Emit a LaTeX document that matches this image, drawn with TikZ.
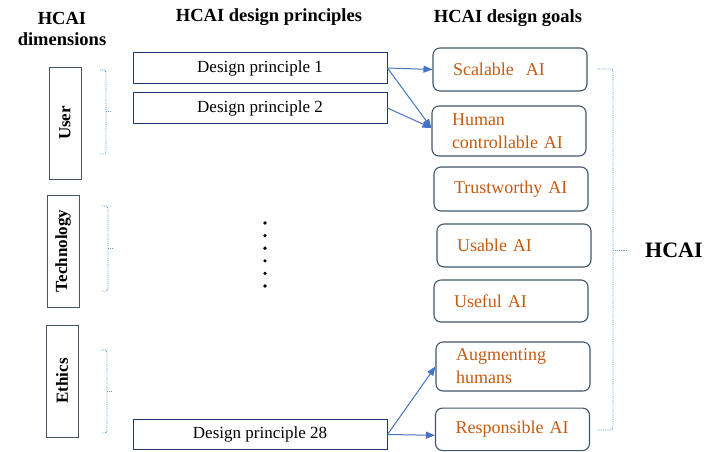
\documentclass[tikz,border=0pt]{standalone}
\usepackage{fontspec}
\setmainfont{Liberation Serif}
\usetikzlibrary{arrows.meta}
\definecolor{navy}{HTML}{203864}
\definecolor{slate}{HTML}{44546A}
\definecolor{orng}{HTML}{C55A11}
\definecolor{lblue}{HTML}{5B9BD5}
\definecolor{ablue}{HTML}{4472C4}
\begin{document}
\begin{tikzpicture}[x=1pt,y=-1pt,
 header/.style={font=\bfseries\fontsize{18.5}{21}\selectfont, inner sep=0pt, align=center},
 dimbox/.style={draw=slate, line width=1pt, rotate=90, minimum width=112pt, minimum height=32pt, font=\bfseries\fontsize{17}{20}\selectfont, inner sep=0pt},
 princ/.style={draw=navy, line width=1pt, minimum width=254pt, minimum height=30.5pt, inner sep=0pt, font=\fontsize{17}{20}\selectfont},
 goal/.style={draw=slate, line width=1.1pt, rounded corners=7pt, text width=114pt, inner xsep=20pt, inner ysep=0pt, align=left, text=orng, font=\fontsize{18}{23}\selectfont},
 brace/.style={lblue, densely dotted, line width=0.9pt, rounded corners=2.5pt},
 arr/.style={ablue, line width=1pt, -{Triangle[length=9pt,width=7pt]}},
 dotmark/.style={circle, fill=black, inner sep=0pt, minimum size=3.6pt}
]
\useasboundingbox (0,0) rectangle (722,451);

% headers
\node[header] (h1) at (62,29) {HCAI\\dimensions};
\node[header] (h2) at (269,17) {HCAI design principles};
\node[header] (h3) at (508,18) {HCAI design goals};

% dimensions
\node[dimbox] (user) at (65,123) {User};
\node[dimbox] (tech) at (63,251) {Technology};
\node[dimbox] (eth) at (62,381) {Ethics};

% braces next to dimensions
\draw[brace] (100,70) -- (106,70) -- (106,154) -- (100,154);
\draw[brace] (106,111) -- (110,111);
\draw[brace] (102,206) -- (108,206) -- (108,291) -- (102,291);
\draw[brace] (108,248) -- (113,248);
\draw[brace] (101,350) -- (107,350) -- (107,433) -- (101,433);
\draw[brace] (107,391) -- (112,391);

% principles
\node[princ] (dp1) at (260,68) {Design principle 1};
\node[princ] (dp2) at (260,108) {Design principle 2};
\node[princ] (dp28) at (260,434.5) {Design principle 28};

% dots
\foreach \k in {0,...,5} {
  \node[dotmark] (d\k) at (265,{223+12.6*\k}) {};
}

% goals
\node[goal, minimum height=43pt] (g1) at (510,69.5) {Scalable\ \ AI};
\node[goal, minimum height=50pt] (g2) at (509,131) {Human\\controllable AI};
\node[goal, minimum height=44pt] (g3) at (511,189) {Trustworthy AI};
\node[goal, minimum height=43pt] (g4) at (514,245.5) {Usable AI};
\node[goal, minimum height=42pt] (g5) at (511,301) {Useful AI};
\node[goal, minimum height=49pt] (g6) at (513,366.5) {Augmenting\\humans};
\node[goal, minimum height=42.5pt] (g7) at (512.5,429.3) {Responsible AI};

% arrows
\draw[arr] (dp1.east) -- (g1.west);
\draw[arr] (dp1.east) -- ([yshift=3pt]g2.west);
\draw[arr] (dp2.east) -- ([yshift=3pt]g2.west);
\draw[arr] (dp28.east) -- (g6.west);
\draw[arr] (dp28.east) -- ([yshift=-6pt]g7.west);

% right brace and HCAI
\draw[brace] (597,69) -- (613,69) -- (613,430) -- (597,430);
\draw[brace] (613,250) -- (628,250);
\node[font=\bfseries\fontsize{22}{24}\selectfont, inner sep=0pt, anchor=west] (hcai) at (645,250) {HCAI};
\end{tikzpicture}
\end{document}
